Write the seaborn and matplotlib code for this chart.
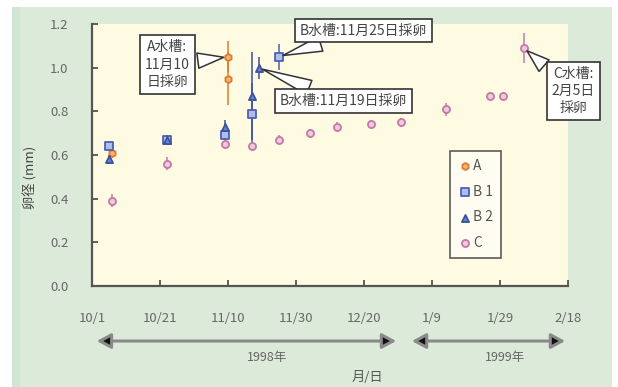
import matplotlib
matplotlib.use("Agg")
import matplotlib.pyplot as plt
import matplotlib.dates as mdates
from matplotlib.patches import Rectangle
import pandas as pd
import seaborn as sns

# Egg diameter (mm) per tank, sampling date, mean and spread
a_dates = ["1998-10-07", "1998-11-10", "1998-11-10"]
a_vals = [0.61, 0.95, 1.05]
a_err = [0.02, 0.12, 0.07]

b1_dates = ["1998-10-06", "1998-10-23", "1998-11-09", "1998-11-17", "1998-11-25"]
b1_vals = [0.64, 0.67, 0.69, 0.79, 1.05]
b1_err = [0.02, 0.02, 0.02, 0.14, 0.06]

b2_dates = ["1998-10-06", "1998-10-23", "1998-11-09", "1998-11-17", "1998-11-19"]
b2_vals = [0.58, 0.67, 0.73, 0.87, 1.00]
b2_err = [0.02, 0.02, 0.03, 0.20, 0.05]

c_dates = ["1998-10-07", "1998-10-23", "1998-11-09", "1998-11-17", "1998-11-25",
           "1998-12-04", "1998-12-12", "1998-12-22", "1998-12-31", "1999-01-13",
           "1999-01-26", "1999-01-30", "1999-02-05"]
c_vals = [0.39, 0.56, 0.65, 0.64, 0.67, 0.70, 0.73, 0.74, 0.75, 0.81, 0.87, 0.87, 1.09]
c_err = [0.03, 0.03, 0.02, 0.02, 0.02, 0.02, 0.02, 0.02, 0.02, 0.03, 0.02, 0.02, 0.07]

series_labels = ["A", "B 1", "B 2", "C"]
x_tick_dates = ["1998-10-01", "1998-10-21", "1998-11-10", "1998-11-30",
                "1998-12-20", "1999-01-09", "1999-01-29", "1999-02-18"]
x_tick_labels = ["10/1", "10/21", "11/10", "11/30", "12/20", "1/9", "1/29", "2/18"]
y_ticks = [0.0, 0.2, 0.4, 0.6, 0.8, 1.0, 1.2]

sns.set_theme(style="ticks")
plt.rcParams["font.family"] = ["Noto Sans CJK JP", "DejaVu Sans"]

fig = plt.figure(figsize=(6.18, 3.87), dpi=100, facecolor="white")
# green panel behind the chart
fig.patches.append(Rectangle((12 / 618, 0), 600 / 618, 380 / 387,
                             transform=fig.transFigure, facecolor="#dcebd9",
                             edgecolor="none", zorder=-2))
fig.patches.append(Rectangle((12 / 618, 0), 8 / 618, 380 / 387,
                             transform=fig.transFigure, facecolor="#d0e6d5",
                             edgecolor="none", zorder=-1))

ax = fig.add_axes([92 / 618, 1 - 286 / 387, 476 / 618, 262 / 387])
ax.set_facecolor("#fffbe3")

styles = [
    (a_dates, a_vals, a_err, "h", "#f6b37c", "#e07b2c"),
    (b1_dates, b1_vals, b1_err, "s", "#aebde9", "#4c62b0"),
    (b2_dates, b2_vals, b2_err, "^", "#6d84cc", "#3b519d"),
    (c_dates, c_vals, c_err, "o", "#f0c9de", "#c27aa6"),
]

for (dates, vals, errs, marker, fill, edge), label in zip(styles, series_labels):
    df = pd.DataFrame({"date": pd.to_datetime(dates), "diam": vals, "err": errs})
    ax.errorbar(df["date"], df["diam"], yerr=df["err"], fmt="none",
                ecolor=edge, elinewidth=1.1, capsize=0, zorder=2)
    sns.scatterplot(data=df, x="date", y="diam", ax=ax, marker=marker, s=26,
                    color=fill, edgecolor=edge, linewidth=1.3, label=label,
                    zorder=3)

ax.set_xlim(pd.Timestamp(x_tick_dates[0]), pd.Timestamp(x_tick_dates[-1]))
ax.set_ylim(0, 1.2)
ax.set_xticks(pd.to_datetime(x_tick_dates))
ax.set_xticklabels(x_tick_labels)
ax.set_yticks(y_ticks)
ax.set_yticklabels([f"{v:.1f}" for v in y_ticks])
ax.set_xlabel("")
ax.set_ylabel("")
ax.tick_params(axis="both", direction="in", length=4, width=1.2, color="#444",
               labelcolor="#666", labelsize=9.5, pad=17)
ax.tick_params(axis="x", pad=19)
for side in ("top", "right"):
    ax.spines[side].set_visible(False)
for side in ("left", "bottom"):
    ax.spines[side].set_color("#555")
    ax.spines[side].set_linewidth(1.6)

leg = ax.legend(loc="upper left", bbox_to_anchor=(0.752, 0.515), frameon=True,
                fontsize=10, labelspacing=0.85, handletextpad=0.1,
                handlelength=1.0, borderpad=0.55, borderaxespad=0, fancybox=False)
leg.get_frame().set_edgecolor("#333")
leg.get_frame().set_linewidth(1.2)
leg.get_frame().set_facecolor("#fffef6")
for t in leg.get_texts():
    t.set_color("#555")

box = dict(boxstyle="square,pad=0.35", fc="white", ec="#333", lw=1.2)
wedge = dict(arrowstyle="wedge,tail_width=1.1,shrink_factor=0.5", fc="white",
             ec="#333", lw=1.1, shrinkB=3)
notes = [
    ("A水槽:\n11月10\n日採卵", (pd.Timestamp("1998-11-10"), 1.05), (0.158, 0.845)),
    ("B水槽:11月25日採卵", (pd.Timestamp("1998-11-25"), 1.05), (0.570, 0.975)),
    ("B水槽:11月19日採卵", (pd.Timestamp("1998-11-19"), 1.00), (0.528, 0.706)),
    ("C水槽:\n2月5日\n採卵", (pd.Timestamp("1999-02-05"), 1.09), (1.011, 0.744)),
]
for text, xy, xytext in notes:
    ax.annotate(text, xy=(mdates.date2num(xy[0]), xy[1]), xycoords="data",
                xytext=xytext, textcoords="axes fraction", ha="center",
                va="center", fontsize=10, color="#444", linespacing=1.3,
                bbox=box, arrowprops=wedge, annotation_clip=False, zorder=5)

# year spans below the date axis
year_spans = [(0.010, 0.639, 0.368, "1998年"), (0.672, 0.994, 0.868, "1999年")]
for x0, x1, xm, label in year_spans:
    ax.annotate("", xy=(x1, -0.21), xytext=(x0, -0.21), xycoords="axes fraction",
                arrowprops=dict(arrowstyle="<|-|>,head_length=0.7,head_width=0.38",
                                fc="#111", ec="#8a8a8a", lw=2.2, shrinkA=0,
                                shrinkB=0), annotation_clip=False)
    ax.text(xm, -0.272, label, transform=ax.transAxes, ha="center", va="center",
            fontsize=9, color="#666")
ax.text(0.578, -0.351, "月/日", transform=ax.transAxes, ha="center", va="center",
        fontsize=9.5, color="#555")

fig.text(30 / 618, 1 - 177 / 387, "卵径 (mm)", rotation=90, ha="center",
         va="center", fontsize=9.5, color="#444")

fig.savefig("out.png", dpi=100, facecolor=fig.get_facecolor())
